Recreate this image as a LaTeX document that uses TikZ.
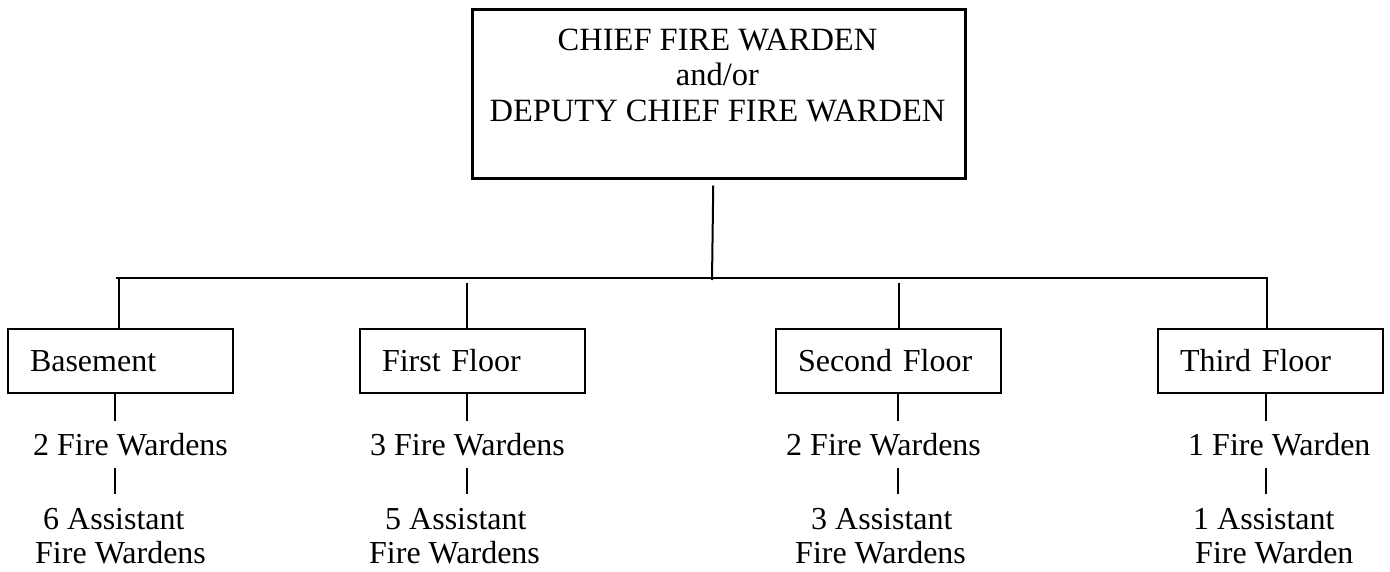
\documentclass[tikz,border=0pt]{standalone}
\usepackage{fontspec}
\setmainfont{Liberation Serif}
\begin{document}
\begin{tikzpicture}[x=1pt,y=-1pt,
  every node/.style={font=\fontsize{32}{34}\selectfont},
  floorbox/.style={draw, line width=2pt, anchor=north west, minimum height=64pt, text width=181pt, inner xsep=22pt, inner ysep=0pt, align=left},
  lbl/.style={inner xsep=0pt, inner ysep=12pt},
  conn/.style={line width=2pt}]
\useasboundingbox (0,0) rectangle (1390,571);
% top box
\node[draw, line width=2.5pt, anchor=north west, minimum width=493pt, minimum height=169pt, inner sep=0pt] (chief) at (471,8) {};
\node[anchor=north, inner sep=0pt, align=center, font=\fontsize{32.5}{35.5}\selectfont] (chieftext) at (717.5,28.5) {CHIEF FIRE WARDEN\\and/or\\DEPUTY CHIEF FIRE WARDEN};
% floor boxes
\node[floorbox] (bsm) at (7,328) {Basement};
\node[floorbox] (ff) at (359,328) {First Floor};
\node[floorbox] (sf) at (775,328) {Second Floor};
\node[floorbox] (tf) at (1157,328) {Third Floor};
% labels
\node[lbl, anchor=base west] (b2) at (33,455) {2 Fire Wardens};
\node[lbl, anchor=north west, align=left] (b3) at (35,496.5) {\hspace*{8pt}6 Assistant\\Fire Wardens};
\node[lbl, anchor=base west] (f2) at (370,455) {3 Fire Wardens};
\node[lbl, anchor=north west, align=left] (f3) at (369,496.5) {\hspace*{16pt}5 Assistant\\Fire Wardens};
\node[lbl, anchor=base west] (s2) at (786,455) {2 Fire Wardens};
\node[lbl, anchor=north west, align=left] (s3) at (795,496.5) {\hspace*{16pt}3 Assistant\\Fire Wardens};
\node[lbl, anchor=base west] (t2) at (1188,455) {1 Fire Warden};
\node[lbl, anchor=north west, align=left] (t3) at (1193,496.5) {1 Assistant\\\hspace*{2pt}Fire Warden};
% connectors
\coordinate (jn) at (712,280);
\coordinate (barL) at (116,278);
\coordinate (barR) at (1267,278);
\draw[conn] ([xshift=-5.5pt,yshift=-6pt]chief.south) -- (jn);
\draw[conn] (barL) -- (barR) -- (barR |- tf.north);
\coordinate (c1) at (119,278);
\coordinate (c2) at (467,283);
\coordinate (c3) at (899,283);
\draw[conn] (c1) -- (c1 |- bsm.north);
\draw[conn] (c2) -- (c2 |- ff.north);
\draw[conn] (c3) -- (c3 |- sf.north);
\coordinate (d1) at (115,0);
\coordinate (d2) at (466.5,0);
\coordinate (d3) at (898,0);
\coordinate (d4) at (1266,0);
\draw[conn] (bsm.south -| d1) -- (b2.north -| d1);
\draw[conn] (b2.south -| d1) -- ([yshift=2.5pt]b3.north -| d1);
\draw[conn] (ff.south -| d2) -- (f2.north -| d2);
\draw[conn] (f2.south -| d2) -- ([yshift=2.5pt]f3.north -| d2);
\draw[conn] (sf.south -| d3) -- (s2.north -| d3);
\draw[conn] (s2.south -| d3) -- ([yshift=2.5pt]s3.north -| d3);
\draw[conn] (tf.south -| d4) -- (t2.north -| d4);
\draw[conn] (t2.south -| d4) -- ([yshift=2.5pt]t3.north -| d4);
\end{tikzpicture}
\end{document}
